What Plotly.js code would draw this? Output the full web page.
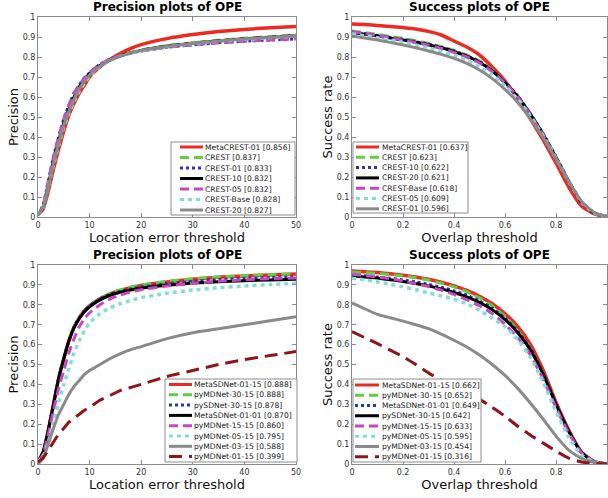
<!DOCTYPE html>
<html>
<head>
<meta charset="utf-8">
<script src="https://cdn.plot.ly/plotly-3.0.1.min.js"></script>
<style>html,body{margin:0;padding:0;background:#fff;overflow:hidden}#chart{width:608px;height:498px}</style>
</head>
<body>
<div id="chart"></div>
<script>
// ---------------- DATA ----------------
var precThr = [0,1,2,3,4,5,6,7,8,9,10,12,14,16,18,20,25,30,35,40,45,50];
var ovlThr = [0,0.05,0.1,0.15,0.2,0.25,0.3,0.35,0.4,0.45,0.5,0.55,0.6,0.65,0.7,0.75,0.8,0.85,0.9,0.95,1];

// Top-left: precision plots (CREST family)
var tlNames = ['MetaCREST-01','CREST','CREST-01','CREST-10','CREST-05','CREST-Base','CREST-20'];
var tlScores = [0.856,0.837,0.833,0.832,0.832,0.828,0.827];
var tlValues = [
  [0.01,0.04,0.13,0.24,0.34,0.43,0.51,0.57,0.62,0.66,0.70,0.75,0.788,0.818,0.843,0.862,0.892,0.912,0.927,0.938,0.946,0.953],
  [0.01,0.05,0.15,0.27,0.37,0.46,0.53,0.59,0.64,0.68,0.71,0.755,0.785,0.806,0.822,0.835,0.857,0.871,0.884,0.894,0.902,0.91],
  [0.01,0.06,0.18,0.30,0.40,0.49,0.56,0.62,0.66,0.695,0.722,0.763,0.79,0.807,0.82,0.83,0.849,0.861,0.871,0.879,0.885,0.89],
  [0.01,0.05,0.16,0.28,0.38,0.47,0.54,0.60,0.65,0.685,0.715,0.758,0.786,0.806,0.821,0.833,0.855,0.869,0.881,0.891,0.899,0.907],
  [0.01,0.06,0.18,0.30,0.40,0.49,0.56,0.62,0.66,0.695,0.722,0.763,0.79,0.808,0.821,0.831,0.849,0.861,0.871,0.879,0.885,0.89],
  [0.01,0.05,0.15,0.26,0.36,0.45,0.52,0.58,0.63,0.67,0.705,0.752,0.783,0.804,0.819,0.831,0.853,0.867,0.879,0.889,0.897,0.905],
  [0.01,0.05,0.15,0.27,0.37,0.46,0.53,0.59,0.64,0.68,0.71,0.754,0.784,0.805,0.82,0.832,0.854,0.868,0.88,0.89,0.898,0.906]
];

// Top-right: success plots (CREST family)
var trNames = ['MetaCREST-01','CREST','CREST-10','CREST-20','CREST-Base','CREST-05','CREST-01'];
var trScores = [0.637,0.623,0.622,0.621,0.618,0.609,0.596];
var trValues = [
  [0.965,0.962,0.958,0.953,0.947,0.94,0.928,0.91,0.88,0.85,0.81,0.75,0.68,0.59,0.49,0.385,0.27,0.15,0.055,0.015,0],
  [0.93,0.922,0.913,0.903,0.893,0.882,0.868,0.852,0.833,0.81,0.78,0.735,0.675,0.605,0.515,0.415,0.3,0.18,0.075,0.02,0.002],
  [0.925,0.917,0.908,0.898,0.888,0.877,0.864,0.849,0.83,0.807,0.777,0.733,0.675,0.605,0.515,0.415,0.3,0.18,0.075,0.02,0.002],
  [0.922,0.914,0.905,0.895,0.885,0.874,0.861,0.846,0.827,0.804,0.774,0.73,0.672,0.602,0.513,0.413,0.298,0.178,0.074,0.02,0.002],
  [0.925,0.917,0.907,0.896,0.885,0.873,0.859,0.843,0.823,0.8,0.77,0.727,0.67,0.6,0.51,0.41,0.295,0.177,0.074,0.02,0.002],
  [0.915,0.906,0.896,0.885,0.873,0.86,0.845,0.828,0.807,0.783,0.752,0.71,0.655,0.588,0.503,0.405,0.293,0.177,0.075,0.02,0.002],
  [0.905,0.895,0.885,0.873,0.86,0.846,0.83,0.813,0.793,0.768,0.735,0.692,0.638,0.572,0.49,0.397,0.29,0.178,0.078,0.022,0.003]
];

// Bottom-left: precision plots (MDNet / SDNet family)
var blNames = ['MetaSDNet-01-15','pyMDNet-30-15','pySDNet-30-15','MetaSDNet-01-01','pyMDNet-15-15','pyMDNet-05-15','pyMDNet-03-15','pyMDNet-01-15'];
var blScores = [0.888,0.888,0.878,0.870,0.860,0.795,0.588,0.399];
var blValues = [
  [0.01,0.06,0.17,0.30,0.43,0.53,0.62,0.69,0.735,0.77,0.795,0.83,0.855,0.872,0.886,0.897,0.915,0.928,0.938,0.945,0.95,0.955],
  [0.01,0.06,0.17,0.30,0.43,0.53,0.62,0.69,0.735,0.77,0.795,0.832,0.858,0.876,0.89,0.9,0.918,0.931,0.94,0.947,0.952,0.956],
  [0.01,0.06,0.17,0.30,0.43,0.53,0.62,0.69,0.735,0.77,0.795,0.83,0.853,0.868,0.88,0.89,0.906,0.918,0.927,0.933,0.937,0.94],
  [0.01,0.06,0.17,0.30,0.43,0.53,0.62,0.685,0.73,0.765,0.79,0.825,0.848,0.863,0.874,0.883,0.898,0.909,0.916,0.921,0.925,0.928],
  [0.01,0.05,0.15,0.27,0.38,0.47,0.56,0.63,0.69,0.73,0.76,0.80,0.83,0.85,0.865,0.876,0.895,0.908,0.918,0.926,0.931,0.935],
  [0.01,0.04,0.11,0.21,0.31,0.40,0.48,0.56,0.62,0.67,0.71,0.755,0.785,0.806,0.822,0.836,0.858,0.874,0.886,0.895,0.902,0.908],
  [0,0.03,0.10,0.18,0.25,0.30,0.35,0.39,0.42,0.45,0.47,0.50,0.53,0.555,0.575,0.59,0.63,0.66,0.68,0.70,0.72,0.74],
  [0.01,0.03,0.07,0.11,0.15,0.18,0.21,0.23,0.25,0.27,0.285,0.32,0.345,0.37,0.385,0.40,0.44,0.47,0.50,0.525,0.545,0.565]
];

// Bottom-right: success plots (MDNet / SDNet family)
var brNames = ['MetaSDNet-01-15','pyMDNet-30-15','MetaSDNet-01-01','pySDNet-30-15','pyMDNet-15-15','pyMDNet-05-15','pyMDNet-03-15','pyMDNet-01-15'];
var brScores = [0.662,0.652,0.649,0.642,0.633,0.595,0.454,0.316];
var brValues = [
  [0.97,0.966,0.962,0.956,0.949,0.94,0.928,0.913,0.895,0.872,0.843,0.805,0.755,0.69,0.6,0.47,0.31,0.17,0.06,0.012,0],
  [0.965,0.962,0.958,0.952,0.945,0.936,0.924,0.909,0.89,0.866,0.835,0.795,0.742,0.672,0.58,0.452,0.3,0.165,0.058,0.012,0],
  [0.95,0.946,0.94,0.933,0.925,0.915,0.903,0.888,0.87,0.848,0.82,0.783,0.733,0.667,0.58,0.455,0.302,0.166,0.058,0.012,0],
  [0.945,0.94,0.934,0.926,0.917,0.907,0.895,0.88,0.862,0.84,0.812,0.775,0.726,0.66,0.573,0.45,0.3,0.165,0.058,0.012,0],
  [0.953,0.947,0.94,0.931,0.92,0.907,0.892,0.874,0.852,0.826,0.795,0.755,0.702,0.635,0.548,0.425,0.283,0.155,0.055,0.012,0],
  [0.933,0.925,0.915,0.903,0.89,0.876,0.86,0.845,0.828,0.805,0.772,0.733,0.69,0.625,0.535,0.41,0.265,0.135,0.045,0.01,0],
  [0.81,0.78,0.752,0.735,0.718,0.70,0.68,0.653,0.622,0.588,0.548,0.50,0.445,0.38,0.305,0.225,0.14,0.07,0.028,0.008,0],
  [0.665,0.635,0.605,0.572,0.54,0.5,0.458,0.42,0.385,0.355,0.325,0.285,0.24,0.19,0.145,0.105,0.065,0.03,0.01,0.003,0]
];

var precTicks = [0,10,20,30,40,50];
var ovlTicks = [0,0.2,0.4,0.6,0.8,1];
var ovlTickText = ['0','0.2','0.4','0.6','0.8',''];

// rank styles (colour / dash) shared by all panels, by legend position
var rankColors = ['#ec2a22','#5fcf3f','#2b37ad','#000000','#c448c2','#86dcd8','#8a8a8a','#8e1519'];
var rankDashes = ['solid','9px,5px','3px,3px','solid','9px,5px','4px,4px','solid','13px,7px'];
var rankWidths = [3.5,3,3,3,3,3.5,3,3];

// ---------------- LAYOUT HELPERS ----------------
var W = 608, H = 498;
var FONT = 'DejaVu Sans';
function px(x){ return x / W; }
function py(y){ return 1 - y / H; }

// box: [left, right, top, bottom] in px; leg.box: [left, top, right, bottom] in px
var panels = [
  {ax:'', xs:precThr, vals:tlValues, names:tlNames, scores:tlScores, box:[38,296,17,217],
   title:'Precision plots of OPE', xt:'Location error threshold', yt:'Precision', prec:true,
   leg:{box:[171,142,295,215], y0:147, dy:10.5, s:[180,203], tx:204}},
  {ax:'2', xs:ovlThr, vals:trValues, names:trNames, scores:trScores, box:[352,607,17,217],
   title:'Success plots of OPE', xt:'Overlap threshold', yt:'Success rate', prec:false,
   leg:{box:[353,142,468,213], y0:147, dy:10.3, s:[356,379], tx:381}},
  {ax:'3', xs:precThr, vals:blValues, names:blNames, scores:blScores, box:[38,296,265,464],
   title:'Precision plots of OPE', xt:'Location error threshold', yt:'Precision', prec:true,
   leg:{box:[165,379,297,462], y0:384.5, dy:10.3, s:[169,192], tx:193}},
  {ax:'4', xs:ovlThr, vals:brValues, names:brNames, scores:brScores, box:[352,607,265,464],
   title:'Success plots of OPE', xt:'Overlap threshold', yt:'Success rate', prec:false,
   leg:{box:[353,379,481,462], y0:385, dy:10.25, s:[355,379], tx:381}}
];

var traces = [];
var layout = {
  width: W, height: H,
  margin: {l:0, r:0, t:0, b:0},
  paper_bgcolor: '#ffffff', plot_bgcolor: '#ffffff',
  showlegend: false,
  font: {family: FONT, color: '#222'},
  shapes: [], annotations: []
};

panels.forEach(function(p){
  var xa = 'x' + p.ax, ya = 'y' + p.ax;
  p.vals.forEach(function(v, i){
    traces.push({
      type:'scatter', mode:'lines', x:p.xs, y:v, xaxis:xa, yaxis:ya,
      name: p.names[i] + ' [' + p.scores[i].toFixed(3) + ']',
      line:{color:rankColors[i], dash:rankDashes[i], width:rankWidths[i], shape:'spline', smoothing:0.5},
      hoverinfo:'skip'
    });
  });
  var axBase = {
    showline:true, linecolor:'#8c8c8c', linewidth:1, mirror:'ticks',
    ticks:'inside', ticklen:4, tickcolor:'#8c8c8c', tickwidth:1,
    showgrid:false, zeroline:false,
    tickfont:{family:FONT, size:8, color:'#333'}
  };
  var xax = Object.assign({}, axBase, {
    domain:[px(p.box[0]), px(p.box[1])], anchor: ya,
    title:{text:p.xt, font:{family:FONT, size:13, color:'#111'}, standoff:3}
  });
  if (p.prec) { xax.range = [0,50]; xax.tickvals = precTicks; }
  else { xax.range = [0,1]; xax.tickvals = ovlTicks; xax.ticktext = ovlTickText; }
  var yax = Object.assign({}, axBase, {
    domain:[py(p.box[3]), py(p.box[2])], anchor: xa, range:[0,1], dtick:0.1, tick0:0,
    title:{text:p.yt, font:{family:FONT, size:13, color:'#111'}, standoff:1}
  });
  layout['xaxis' + p.ax] = xax;
  layout['yaxis' + p.ax] = yax;

  // subplot title
  layout.annotations.push({
    xref:'paper', yref:'paper', x:px((p.box[0]+p.box[1])/2), y:py(p.box[2]),
    xanchor:'center', yanchor:'bottom', yshift:1, showarrow:false,
    text:p.title, font:{family:FONT, size:12, color:'#000', weight:'bold'}
  });

  // legend box
  var L = p.leg;
  layout.shapes.push({type:'rect', xref:'paper', yref:'paper',
    x0:px(L.box[0]), x1:px(L.box[2]), y0:py(L.box[3]), y1:py(L.box[1]),
    fillcolor:'#ffffff', line:{color:'#8c8c8c', width:1}, layer:'above'});
  p.names.forEach(function(n, i){
    var yy = L.y0 + i * L.dy;
    layout.shapes.push({type:'line', xref:'paper', yref:'paper',
      x0:px(L.s[0]), x1:px(L.s[1]), y0:py(yy), y1:py(yy),
      line:{color:rankColors[i], dash:rankDashes[i], width:3}, layer:'above'});
    layout.annotations.push({xref:'paper', yref:'paper', x:px(L.tx), y:py(yy),
      xanchor:'left', yanchor:'middle', showarrow:false, borderpad:0,
      text:n + ' [' + p.scores[i].toFixed(3) + ']',
      font:{family:FONT, size:7.6, color:'#222'}});
  });
});

Plotly.newPlot('chart', traces, layout, {staticPlot:true, displayModeBar:false});
</script>
</body>
</html>
